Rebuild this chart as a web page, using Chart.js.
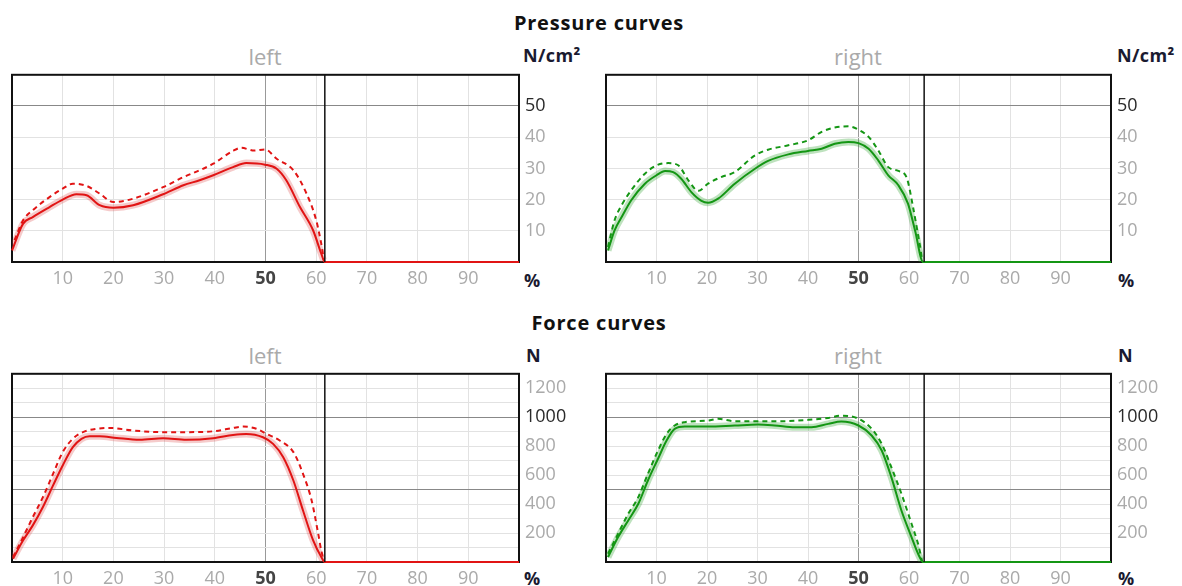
<!DOCTYPE html>
<html>
<head>
<meta charset="utf-8">
<script src="https://cdn.jsdelivr.net/npm/chart.js@4.4.1/dist/chart.umd.min.js"></script>
<style>
  html, body { margin: 0; padding: 0; background: #fff; overflow: hidden; width: 1182px; height: 586px; }
  body { position: relative; font-family: "Open Sans", "Noto Sans", sans-serif; }
  canvas { position: absolute; }
  .t { position: absolute; white-space: nowrap; transform: translate(-50%, -50%); }
  .main { font-weight: 700; font-size: 20px; letter-spacing: 0.8px; color: #111; }
  .sub { font-size: 22px; color: #aaa; }
  .unit { position: absolute; white-space: nowrap; transform: translateY(-50%); font-weight: 700; font-size: 18px; letter-spacing: 0.4px; color: #1a1a30; }
</style>
</head>
<body>
<div class="t main" style="left:599px;top:22px">Pressure curves</div>
<div class="t sub" style="left:265px;top:56px">left</div>
<div class="t sub" style="left:858px;top:56px">right</div>
<div class="unit" style="left:523px;top:55px">N/cm²</div>
<div class="unit" style="left:1117px;top:55px">N/cm²</div>
<div class="unit" style="left:524px;top:280px">%</div>
<div class="unit" style="left:1118px;top:280px">%</div>

<div class="t main" style="left:599px;top:322px">Force curves</div>
<div class="t sub" style="left:265px;top:355px">left</div>
<div class="t sub" style="left:858px;top:355px">right</div>
<div class="unit" style="left:526px;top:355px">N</div>
<div class="unit" style="left:1118px;top:355px">N</div>
<div class="unit" style="left:524px;top:578px">%</div>
<div class="unit" style="left:1118px;top:578px">%</div>

<canvas id="pl" width="594" height="240" style="left:0px;top:58px"></canvas>
<canvas id="pr" width="588" height="240" style="left:594px;top:58px"></canvas>
<canvas id="fl" width="594" height="241" style="left:0px;top:357px"></canvas>
<canvas id="fr" width="588" height="241" style="left:594px;top:357px"></canvas>

<script>
// ---------- data (x = % of step, y = value) ----------
const xTicks = [10, 20, 30, 40, 50, 60, 70, 80, 90];
const pressureTicks = [10, 20, 30, 40, 50];
const forceTicks = [200, 400, 600, 800, 1000, 1200];
const stanceEnd = [61.7, 63.0]; // left, right

// Pressure left
const pressureLeftMeanX = [0, 2.2, 4.1, 7.4, 10, 12.7, 14.7, 17.3, 20, 23.9, 29.8, 33.8, 37, 39.7, 43.6, 46.2, 49.9, 52.2, 54.1, 56.8, 59.4, 61, 61.7, 80, 100];
const pressureLeftMean  = [3.7, 12.3, 14.4, 17.6, 20, 21.7, 21.4, 18.2, 17.4, 18.2, 21.7, 24.6, 26.2, 27.8, 30.4, 31.7, 31.2, 29.9, 26.2, 17.6, 10.1, 2.7, 0, 0, 0];
const pressureLeftMaxX  = [0.5, 2.2, 4.1, 7.4, 10, 12, 14.7, 17.3, 20, 23.9, 29.8, 33.8, 37, 39.7, 43.6, 45.2, 47.8, 49.9, 52.2, 55.5, 58.1, 60, 61, 61.7, 80, 100];
const pressureLeftMax   = [7, 13.4, 16.6, 20.8, 23.5, 25.1, 24.4, 21.9, 19.2, 20.3, 24, 27.2, 29.4, 31.5, 35.6, 36.6, 35.7, 36.1, 33.1, 29.4, 21.9, 13.4, 5.9, 0, 0, 0];

// Pressure right
const pressureRightMeanX = [0.4, 1.7, 3.1, 5, 7.7, 10, 11.7, 13.3, 14.9, 16.9, 18.9, 20.2, 22.2, 25.5, 29.5, 32.1, 36.1, 40, 42.7, 45.3, 48, 50, 52, 53.9, 55.9, 57.9, 59.8, 61.2, 62.8, 80, 100];
const pressureRightMean  = [3.7, 10.1, 14.4, 19.8, 25.1, 27.8, 29.2, 28.8, 26.7, 22.4, 19.6, 19, 20.3, 25.1, 29.9, 32.4, 34.5, 35.6, 36.3, 37.9, 38.5, 38.1, 36.3, 32.6, 27.8, 24.6, 18.7, 10.1, 0, 0, 0];
const pressureRightMaxX  = [0.4, 1.7, 3.1, 5, 7.7, 10, 12.3, 14.3, 16.3, 18.3, 20.2, 22.8, 25.5, 29.5, 32.1, 36.1, 40, 42.7, 45.3, 48, 50, 52, 53.9, 55.9, 57.9, 59.5, 60.8, 62.1, 62.8, 80, 100];
const pressureRightMax   = [4.8, 13.4, 18.2, 23, 28.3, 31, 31.7, 31, 26.2, 22.8, 25.1, 27.2, 28.8, 34.2, 36, 37.4, 39, 41.7, 43.1, 43.5, 42.4, 40.1, 35.8, 30.4, 29.2, 27.2, 17.6, 5.9, 0, 0, 0];

// Force left
const forceLeftMeanX = [0.2, 2.2, 4.1, 6.1, 8.1, 10, 12, 13.7, 15.3, 17.3, 20.6, 25.2, 29.8, 34.4, 39.7, 43.6, 46.2, 49.5, 51.5, 53.5, 55.5, 57.4, 59.4, 61, 61.7, 80, 100];
const forceLeftMean  = [23, 150, 253, 380, 529, 667, 793, 851, 869, 869, 857, 844, 855, 844, 855, 878, 885, 862, 816, 724, 563, 356, 149, 34, 0, 0, 0];
const forceLeftMaxX  = [0.2, 2.2, 4.1, 6.1, 8.1, 10, 12, 14, 16.6, 19.3, 23.9, 29.8, 34.4, 39.7, 43.6, 45.6, 48.2, 50.2, 52.8, 55.5, 57.4, 59.1, 60.4, 61, 61.7, 80, 100];
const forceLeftMax   = [34, 172, 310, 448, 609, 759, 851, 897, 920, 926, 908, 897, 897, 903, 926, 936, 920, 885, 839, 759, 609, 425, 195, 80, 0, 0, 0];

// Force right
const forceRightMeanX = [0.4, 2.4, 4.4, 6.4, 8.3, 10.3, 12, 13.6, 15.6, 20.2, 25.5, 30.1, 33.4, 37.4, 40.7, 44, 46.6, 50, 52.6, 54.6, 56.5, 58.5, 60.5, 61.8, 62.8, 80, 100];
const forceRightMean  = [34, 172, 287, 402, 563, 713, 839, 920, 936, 936, 943, 949, 943, 931, 931, 954, 970, 943, 874, 770, 586, 356, 172, 57, 0, 0, 0];
const forceRightMaxX  = [0.4, 2.4, 4.4, 6.4, 8.3, 10.3, 12, 13.6, 15.6, 20.2, 22.2, 25.5, 30.1, 34.7, 40, 44, 46.6, 50, 52.6, 54.6, 56.5, 58.5, 60.5, 61.8, 62.8, 80, 100];
const forceRightMax   = [57, 195, 333, 448, 609, 770, 885, 943, 966, 977, 989, 972, 972, 972, 982, 995, 1011, 989, 920, 816, 655, 471, 264, 126, 0, 0, 0];

// ---------- rendering ----------
const pts = (xs, ys) => xs.map((x, i) => ({ x: x, y: ys[i] }));
const tv = c => (c && c.tick) ? c.tick.value : null;

const boxPlugin = {
  id: 'box',
  beforeDatasetsDraw(chart) {
    const a = chart.chartArea, c = chart.ctx;
    c.save();
    c.strokeStyle = '#111';
    c.lineWidth = 2;
    c.strokeRect(a.left, a.top, a.right - a.left, a.bottom - a.top);
    c.restore();
  }
};

function makeChart(id, opts) {
  const red = opts.color === 'red';
  const main = red ? 'rgb(225,20,20)' : 'rgb(20,150,20)';
  const halo = red ? 'rgba(220,70,70,0.28)' : 'rgba(40,160,40,0.30)';
  const yLabels = opts.yLabels;
  const fontFam = '"Open Sans", "Noto Sans", sans-serif';
  new Chart(document.getElementById(id), {
    type: 'line',
    data: {
      datasets: [
        { data: pts(opts.meanX, opts.mean), borderColor: main, borderWidth: 2, order: 1, clip: 4,
          pointRadius: 0, cubicInterpolationMode: 'monotone' },
        { data: pts(opts.maxX, opts.max), borderColor: main, borderWidth: 2, borderDash: [5, 4], order: 2, clip: 4,
          pointRadius: 0, cubicInterpolationMode: 'monotone' },
        { data: pts(opts.meanX, opts.mean), borderColor: halo, borderWidth: 7, order: 3, clip: 0,
          pointRadius: 0, cubicInterpolationMode: 'monotone',
          segment: { borderColor: s => (s.p0.parsed.y === 0 && s.p1.parsed.y === 0) ? 'rgba(0,0,0,0)' : halo } },
        { data: [{ x: opts.stance, y: 0 }, { x: opts.stance, y: opts.yMax }], borderColor: '#111',
          borderWidth: 1.5, order: 0, pointRadius: 0 }
      ]
    },
    options: {
      responsive: false,
      animation: false,
      devicePixelRatio: 1,
      layout: { padding: { left: 12, top: 15, right: 0, bottom: 0 } },
      plugins: { legend: { display: false }, tooltip: { enabled: false } },
      scales: {
        x: {
          type: 'linear', min: 0, max: 100,
          afterBuildTicks: s => { s.ticks = [0].concat(xTicks, [100]).map(v => ({ value: v })); },
          afterFit: s => { s.height = 36; },
          grid: {
            drawTicks: false,
            color: c => tv(c) === 50 ? '#999' : '#e2e2e2',
            lineWidth: 1
          },
          border: { display: false },
          ticks: {
            autoSkip: false, maxRotation: 0, padding: 6,
            callback: v => xTicks.includes(v) ? String(v) : '',
            color: c => tv(c) === 50 ? '#444' : '#aaa',
            font: c => ({ family: fontFam, size: 18, weight: tv(c) === 50 ? '700' : '400' })
          }
        },
        y: {
          type: 'linear', position: 'right', min: 0, max: opts.yMax,
          afterBuildTicks: s => {
            const t = [];
            for (let v = 0; v <= opts.yMax + 1e-9; v += opts.yStep) t.push({ value: Math.round(v) });
            s.ticks = t;
          },
          afterFit: s => { s.width = opts.yAxisWidth; },
          grid: {
            drawTicks: false,
            color: c => opts.darkY.includes(tv(c)) ? '#888' : '#e2e2e2',
            lineWidth: 1
          },
          border: { display: false },
          ticks: {
            autoSkip: false, padding: 6,
            callback: v => yLabels.includes(v) ? String(v) : '',
            color: c => tv(c) === opts.emph ? '#2a2a2a' : '#aaa',
            font: { family: fontFam, size: 18 }
          }
        }
      }
    },
    plugins: [boxPlugin]
  });
}

makeChart('pl', { color: 'red', meanX: pressureLeftMeanX, mean: pressureLeftMean, maxX: pressureLeftMaxX, max: pressureLeftMax,
  stance: stanceEnd[0], yMax: 60, yStep: 10, yLabels: pressureTicks, darkY: [50], emph: 50, yAxisWidth: 75 });
makeChart('pr', { color: 'green', meanX: pressureRightMeanX, mean: pressureRightMean, maxX: pressureRightMaxX, max: pressureRightMax,
  stance: stanceEnd[1], yMax: 60, yStep: 10, yLabels: pressureTicks, darkY: [50], emph: 50, yAxisWidth: 71 });
makeChart('fl', { color: 'red', meanX: forceLeftMeanX, mean: forceLeftMean, maxX: forceLeftMaxX, max: forceLeftMax,
  stance: stanceEnd[0], yMax: 1300, yStep: 100, yLabels: forceTicks, darkY: [500, 1000], emph: 1000, yAxisWidth: 75 });
makeChart('fr', { color: 'green', meanX: forceRightMeanX, mean: forceRightMean, maxX: forceRightMaxX, max: forceRightMax,
  stance: stanceEnd[1], yMax: 1300, yStep: 100, yLabels: forceTicks, darkY: [500, 1000], emph: 1000, yAxisWidth: 71 });
</script>
</body>
</html>
